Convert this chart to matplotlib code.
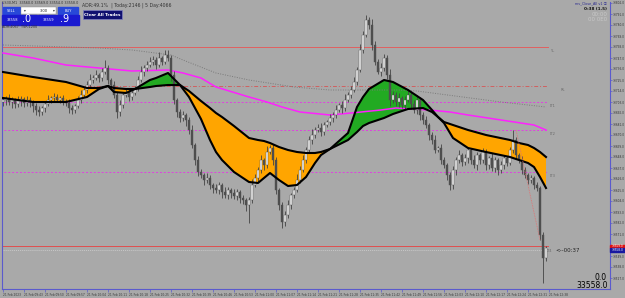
import matplotlib
matplotlib.use("Agg")
import matplotlib.pyplot as plt
import pandas as pd
from matplotlib.patches import Rectangle

# US30 M1 candles (closes, opens = previous close)
first_open = 33703
closes = [
    33705, 33707, 33703, 33705, 33701, 33704, 33706, 33702, 33705, 33703,
    33699, 33695, 33693, 33697, 33701, 33705, 33707, 33708, 33705, 33707,
    33704, 33702, 33697, 33695, 33699, 33705, 33710, 33715, 33720, 33725,
    33727, 33730, 33727, 33733, 33737, 33725, 33720, 33710, 33693, 33700,
    33710, 33713, 33708, 33712, 33717, 33725, 33733, 33737, 33740, 33743,
    33745, 33740, 33747, 33743, 33750, 33747, 33730, 33705, 33693, 33687,
    33690, 33685, 33675, 33660, 33645, 33633, 33630, 33625, 33627, 33620,
    33617, 33615, 33620, 33613, 33610, 33615, 33612, 33609, 33613, 33607,
    33605, 33600, 33605, 33620, 33627, 33635, 33645, 33640, 33653, 33657,
    33645, 33615, 33600, 33583, 33590, 33600, 33610, 33615, 33625, 33635,
    33645, 33655, 33665, 33670, 33675, 33677, 33673, 33680, 33683, 33687,
    33690, 33695, 33700, 33697, 33705, 33710, 33715, 33723, 33735, 33755,
    33770, 33785, 33780, 33760, 33743, 33733, 33737, 33747, 33730, 33705,
    33710, 33703, 33707, 33700, 33705, 33710, 33701, 33695, 33705, 33690,
    33685, 33680, 33670, 33665, 33655, 33657, 33645, 33640, 33630, 33620,
    33635, 33645, 33650, 33643, 33647, 33655, 33645, 33640, 33650, 33645,
    33653, 33640, 33647, 33637, 33645, 33635, 33640, 33647, 33642, 33655,
    33665, 33650, 33645, 33635, 33630, 33625, 33627, 33620, 33617, 33570,
    33547, 33557,
]
# wick lengths above / below the body (points)
wick_up = [
    3, 2, 4, 3, 2, 5, 3, 2, 4, 3,
    2, 3, 4, 2, 3, 5, 2, 4, 3, 2,
    3, 2, 4, 3, 2, 4, 5, 3, 4, 6,
    3, 5, 2, 4, 8, 3, 2, 4, 3, 5,
    2, 4, 3, 5, 2, 4, 6, 3, 4, 5,
    4, 3, 6, 2, 5, 5, 3, 4, 2, 3,
    4, 2, 3, 5, 2, 4, 3, 2, 5, 3,
    2, 4, 3, 2, 5, 3, 2, 4, 3, 2,
    3, 2, 3, 6, 4, 3, 5, 2, 6, 3,
    4, 3, 2, 3, 4, 5, 2, 3, 6, 4,
    5, 3, 4, 6, 3, 4, 5, 3, 2, 4,
    3, 5, 2, 4, 6, 3, 4, 5, 3, 6,
    4, 5, 3, 6, 4, 3, 5, 4, 3, 6,
    4, 3, 5, 2, 4, 6, 3, 4, 5, 3,
    3, 4, 2, 3, 5, 2, 4, 3, 2, 3,
    4, 3, 5, 2, 4, 3, 2, 5, 3, 2,
    4, 3, 2, 5, 3, 2, 4, 3, 2, 3,
    10, 3, 2, 4, 3, 2, 3, 2, 3, 2,
    3, 2,
]
wick_dn = [
    4, 5, 3, 6, 4, 3, 5, 4, 3, 5,
    6, 5, 4, 3, 4, 2, 3, 4, 2, 3,
    4, 3, 5, 4, 3, 2, 3, 2, 3, 2,
    3, 2, 4, 3, 2, 4, 5, 3, 6, 4,
    3, 2, 4, 3, 2, 3, 2, 4, 3, 2,
    3, 4, 2, 3, 2, 3, 6, 4, 5, 4,
    3, 6, 4, 3, 5, 4, 3, 5, 3, 4,
    5, 3, 4, 6, 3, 4, 5, 3, 4, 5,
    4, 6, 18, 3, 2, 4, 3, 5, 3, 2,
    5, 4, 5, 6, 4, 3, 4, 3, 2, 3,
    2, 3, 2, 4, 3, 2, 4, 3, 2, 3,
    4, 3, 2, 5, 3, 2, 3, 2, 3, 2,
    3, 2, 4, 5, 3, 2, 4, 3, 4, 6,
    3, 4, 5, 3, 4, 2, 5, 3, 4, 5,
    4, 3, 5, 4, 3, 2, 4, 3, 5, 5,
    4, 5, 3, 4, 3, 5, 4, 3, 5, 4,
    3, 5, 4, 3, 4, 5, 3, 4, 3, 2,
    3, 4, 3, 4, 3, 4, 3, 4, 3, 5,
    25, 3,
]

# cloud: two moving averages, sampled along the bars
cloud_idx = [0, 10, 21, 28, 32, 35, 37, 41, 44, 49,
             51, 55, 59, 62, 66, 69, 71, 73, 77, 82,
             85, 87, 89, 92, 95, 98, 101, 104, 106, 109,
             115, 118, 120, 122, 127, 130, 135, 140, 143, 145,
             147, 150, 155, 161, 169, 172, 175, 177, 179, 181]
slow_ma = [33733, 33728, 33723, 33717, 33717, 33719, 33717, 33716, 33716, 33718,
           33719, 33720, 33720, 33714, 33704, 33697, 33692, 33688, 33679, 33667,
           33665, 33664, 33662, 33658, 33655, 33653, 33652, 33652, 33653, 33656,
           33665, 33673, 33679, 33682, 33687, 33691, 33696, 33697, 33693, 33688,
           33683, 33680, 33675, 33670, 33665, 33662, 33660, 33657, 33653, 33648]
fast_ma = [33707, 33703, 33703, 33708, 33716, 33719, 33713, 33712, 33716, 33725,
           33727, 33732, 33720, 33708, 33686, 33665, 33653, 33645, 33633, 33623,
           33622, 33627, 33632, 33625, 33619, 33620, 33628, 33642, 33650, 33656,
           33672, 33698, 33708, 33716, 33725, 33723, 33715, 33705, 33695, 33688,
           33682, 33667, 33657, 33653, 33648, 33645, 33642, 33638, 33628, 33617]

# magenta and grey long moving averages
ma_idx = [0, 10, 21, 32, 43, 55, 60, 66, 71, 82, 88, 93, 99, 109, 116, 126,
          131, 142, 149, 155, 166, 177, 181]
ma_magenta = [33752, 33747, 33740, 33737, 33734, 33735, 33732, 33727, 33718,
              33708, 33703, 33698, 33693, 33690, 33692, 33695, 33697, 33695,
              33693, 33690, 33685, 33680, 33675]
grey_idx = [0, 32, 43, 56, 60, 71, 82, 97, 109, 132, 138, 166, 181]
ma_grey = [33760, 33757, 33755, 33750, 33745, 33732, 33725, 33718, 33715,
           33715, 33714, 33703, 33698]

# horizontal levels
level_names = ["YL", "RL", "LT1", "LT2", "LT3", "", "LT4"]
level_prices = [33758, 33719, 33703, 33675, 33633, 33559, 33555]

trade_idx = [171, 179]
trade_price = [33675, 33565]

bid_price = 33558.0
ask_price = 33559.9
start_time = pd.Timestamp("2023-02-21 09:36")

BG = "#a9a9a9"
W, H = 625, 298
fig = plt.figure(figsize=(W / 100, H / 100), dpi=100, facecolor=BG)
ax = fig.add_axes([2 / W, (H - 289) / H, (610 - 2) / W, (289 - 2) / H], facecolor=BG)

n = len(closes)
opens = [first_open] + closes[:-1]
highs = [max(o, c) + w for o, c, w in zip(opens, closes, wick_up)]
lows = [min(o, c) - w for o, c, w in zip(opens, closes, wick_dn)]
x = list(range(n))

# cloud
ax.fill_between(cloud_idx, fast_ma, slow_ma,
                where=[f >= s for f, s in zip(fast_ma, slow_ma)],
                interpolate=True, color="#22aa22", lw=0, zorder=2)
ax.fill_between(cloud_idx, fast_ma, slow_ma,
                where=[f <= s for f, s in zip(fast_ma, slow_ma)],
                interpolate=True, color="#ffa500", lw=0, zorder=2)

# levels
styles = [("#e06060", "-"), ("#d06060", (0, (4, 2, 1, 2))), ("#e040e0", (0, (2, 2))),
          ("#e040e0", (0, (2, 2))), ("#e040e0", (0, (2, 2))), ("#e05050", "-"),
          ("#c8c8c8", (0, (1, 1)))]
for name, p, (col, ls) in zip(level_names, level_prices, styles):
    ax.plot([-1, 181.5], [p, p], color=col, ls=ls, lw=0.7, zorder=1)
    if name and name != "LT4":
        dx = 186 if name == "RL" else 182.3
        ax.text(dx, p - 2, name, fontsize=2.6, color="#6a6a6a", va="top", ha="left")

ax.plot(grey_idx, ma_grey, color="#7a7a7a", ls=(0, (1, 1.5)), lw=0.7, zorder=2)
ax.plot(ma_idx, ma_magenta, color="#ff20ff", lw=1.1, zorder=3)

# candles
bodies_lo = [min(o, c) for o, c in zip(opens, closes)]
bodies_h = [max(abs(c - o), 0.8) for o, c in zip(opens, closes)]
cols = ["#f4f4f4" if c >= o else "#4e4e4e" for o, c in zip(opens, closes)]
ax.vlines(x, lows, highs, color="#444444", lw=0.6, zorder=4)
ax.bar(x, bodies_h, bottom=bodies_lo, width=0.62, color=cols,
       edgecolor="#505050", lw=0.3, zorder=5)

ax.plot(cloud_idx, slow_ma, color="black", lw=1.5, zorder=6)
ax.plot(cloud_idx, fast_ma, color="black", lw=1.5, zorder=6)

ax.plot(trade_idx, trade_price, color="#e07070", ls=(0, (1, 1)), lw=0.6, zorder=6)

ax.set_xlim(-0.33, 202.33)
ax.set_ylim(33516, 33803)

# axes look (MT4 style)
ax.spines["top"].set_visible(False)
for s in ["left", "right", "bottom"]:
    ax.spines[s].set_color("#5a5acd")
    ax.spines[s].set_linewidth(0.8)

yt = [33802 - 11 * k for k in range(26) if abs(33802 - 11 * k - 33557) > 6]
ax.yaxis.tick_right()
ax.set_yticks(yt)
ax.set_yticklabels([f"{v:.1f}" for v in yt])
ax.tick_params(axis="y", labelsize=2.1, colors="#5a5acd", labelcolor="#333333",
               length=1.5, width=0.5, pad=0.5)

tick_idx = list(range(0, 183, 7))
tick_labels = ["21 Feb 2023"] + [(start_time + pd.Timedelta(minutes=i)).strftime("21 Feb %H:%M")
                                 for i in tick_idx[1:]]
ax.set_xticks(tick_idx)
ax.set_xticklabels(tick_labels, ha="left")
ax.tick_params(axis="x", labelsize=2.1, colors="#5a5acd", labelcolor="#333333",
               length=2, width=0.5, pad=1)

# overlay in pixel coordinates for the terminal widgets
ov = fig.add_axes([0, 0, 1, 1], facecolor="none")
ov.set_xlim(0, W)
ov.set_ylim(H, 0)
ov.axis("off")

ov.text(2, 1.5, "US30,M1  33560.0 33569.0 33554.0 33558.0", fontsize=2.4,
        color="#333333", va="top")
ov.text(82, 2.5, "ADR:49.1%  | Today:2146 | 5 Day:4066", fontsize=3.3,
        color="#333333", va="top")

ov.add_patch(Rectangle((3, 7), 17, 7, color="#2848d8"))
ov.text(11.5, 10.5, "SELL", fontsize=2.6, color="white", ha="center", va="center")
ov.add_patch(Rectangle((21, 7), 35, 7, facecolor="white", edgecolor="#888888", lw=0.3))
ov.text(24, 10.5, "▾", fontsize=2.6, color="#333333", va="center")
ov.text(44, 10.5, "3.00", fontsize=2.6, color="#222222", ha="center", va="center")
ov.text(53, 10.5, "▾", fontsize=2.6, color="#333333", va="center")
ov.add_patch(Rectangle((58, 7), 20, 7, color="#2848d8"))
ov.text(68, 10.5, "BUY", fontsize=2.6, color="white", ha="center", va="center")

ov.add_patch(Rectangle((2, 15), 35, 10, color="#1a1ad0"))
ov.text(7, 22, "33558", fontsize=2.6, color="white", va="bottom")
ov.text(22, 24, ".0", fontsize=7, color="white", va="bottom")
ov.add_patch(Rectangle((38, 15), 41, 10, color="#1a1ad0"))
ov.text(43, 22, "33559", fontsize=2.6, color="white", va="bottom")
ov.text(60, 24, ".9", fontsize=7, color="white", va="bottom")
ov.text(2, 27, "ADR:4067  TSR:1200", fontsize=2.4, color="#333333", va="center")

ov.add_patch(Rectangle((83, 10), 39, 9, facecolor="#101070", edgecolor="#8080c0", lw=0.5))
ov.text(102.5, 14.5, "Clear All Trades", fontsize=3.0, color="white",
        ha="center", va="center", fontweight="bold")

ov.text(607, 3, "mv_Close_All v1 ⓘ", fontsize=2.4, color="#2a2a90", ha="right",
        va="center", family=["DejaVu Sans", "Noto Sans CJK JP"])
ov.text(607, 9, "0:38 (1.5)", fontsize=3.0, color="#111111", ha="right", va="center",
        fontweight="bold")
ov.text(607, 14.5, "00:00", fontsize=4, color="#c8c8c8", ha="right", va="center")
ov.text(607, 19.5, "00 0E0", fontsize=4, color="#c8c8c8", ha="right", va="center")

ov.text(547, 251, "LT4", fontsize=2.4, color="#6a6a6a", va="center")
ov.text(555, 250.5, "<--00:37", fontsize=4.0, color="#222222", va="center")
ov.text(607, 277.5, "0.0", fontsize=5.5, color="black", ha="right", va="center")
ov.text(608, 285.5, f"{bid_price:.1f}", fontsize=5.5, color="black", ha="right", va="center")

ov.add_patch(Rectangle((610, 244.5), 15, 3.5, color="#e01010"))
ov.add_patch(Rectangle((610, 248), 15, 3.5, color="#1818a0"))
ov.text(612, 246.3, f"{bid_price + 1:.1f}", fontsize=2.1, color="white", va="center")
ov.text(612, 249.8, f"{bid_price:.1f}", fontsize=2.1, color="white", va="center")

fig.savefig("out.png", dpi=100, facecolor=BG)
